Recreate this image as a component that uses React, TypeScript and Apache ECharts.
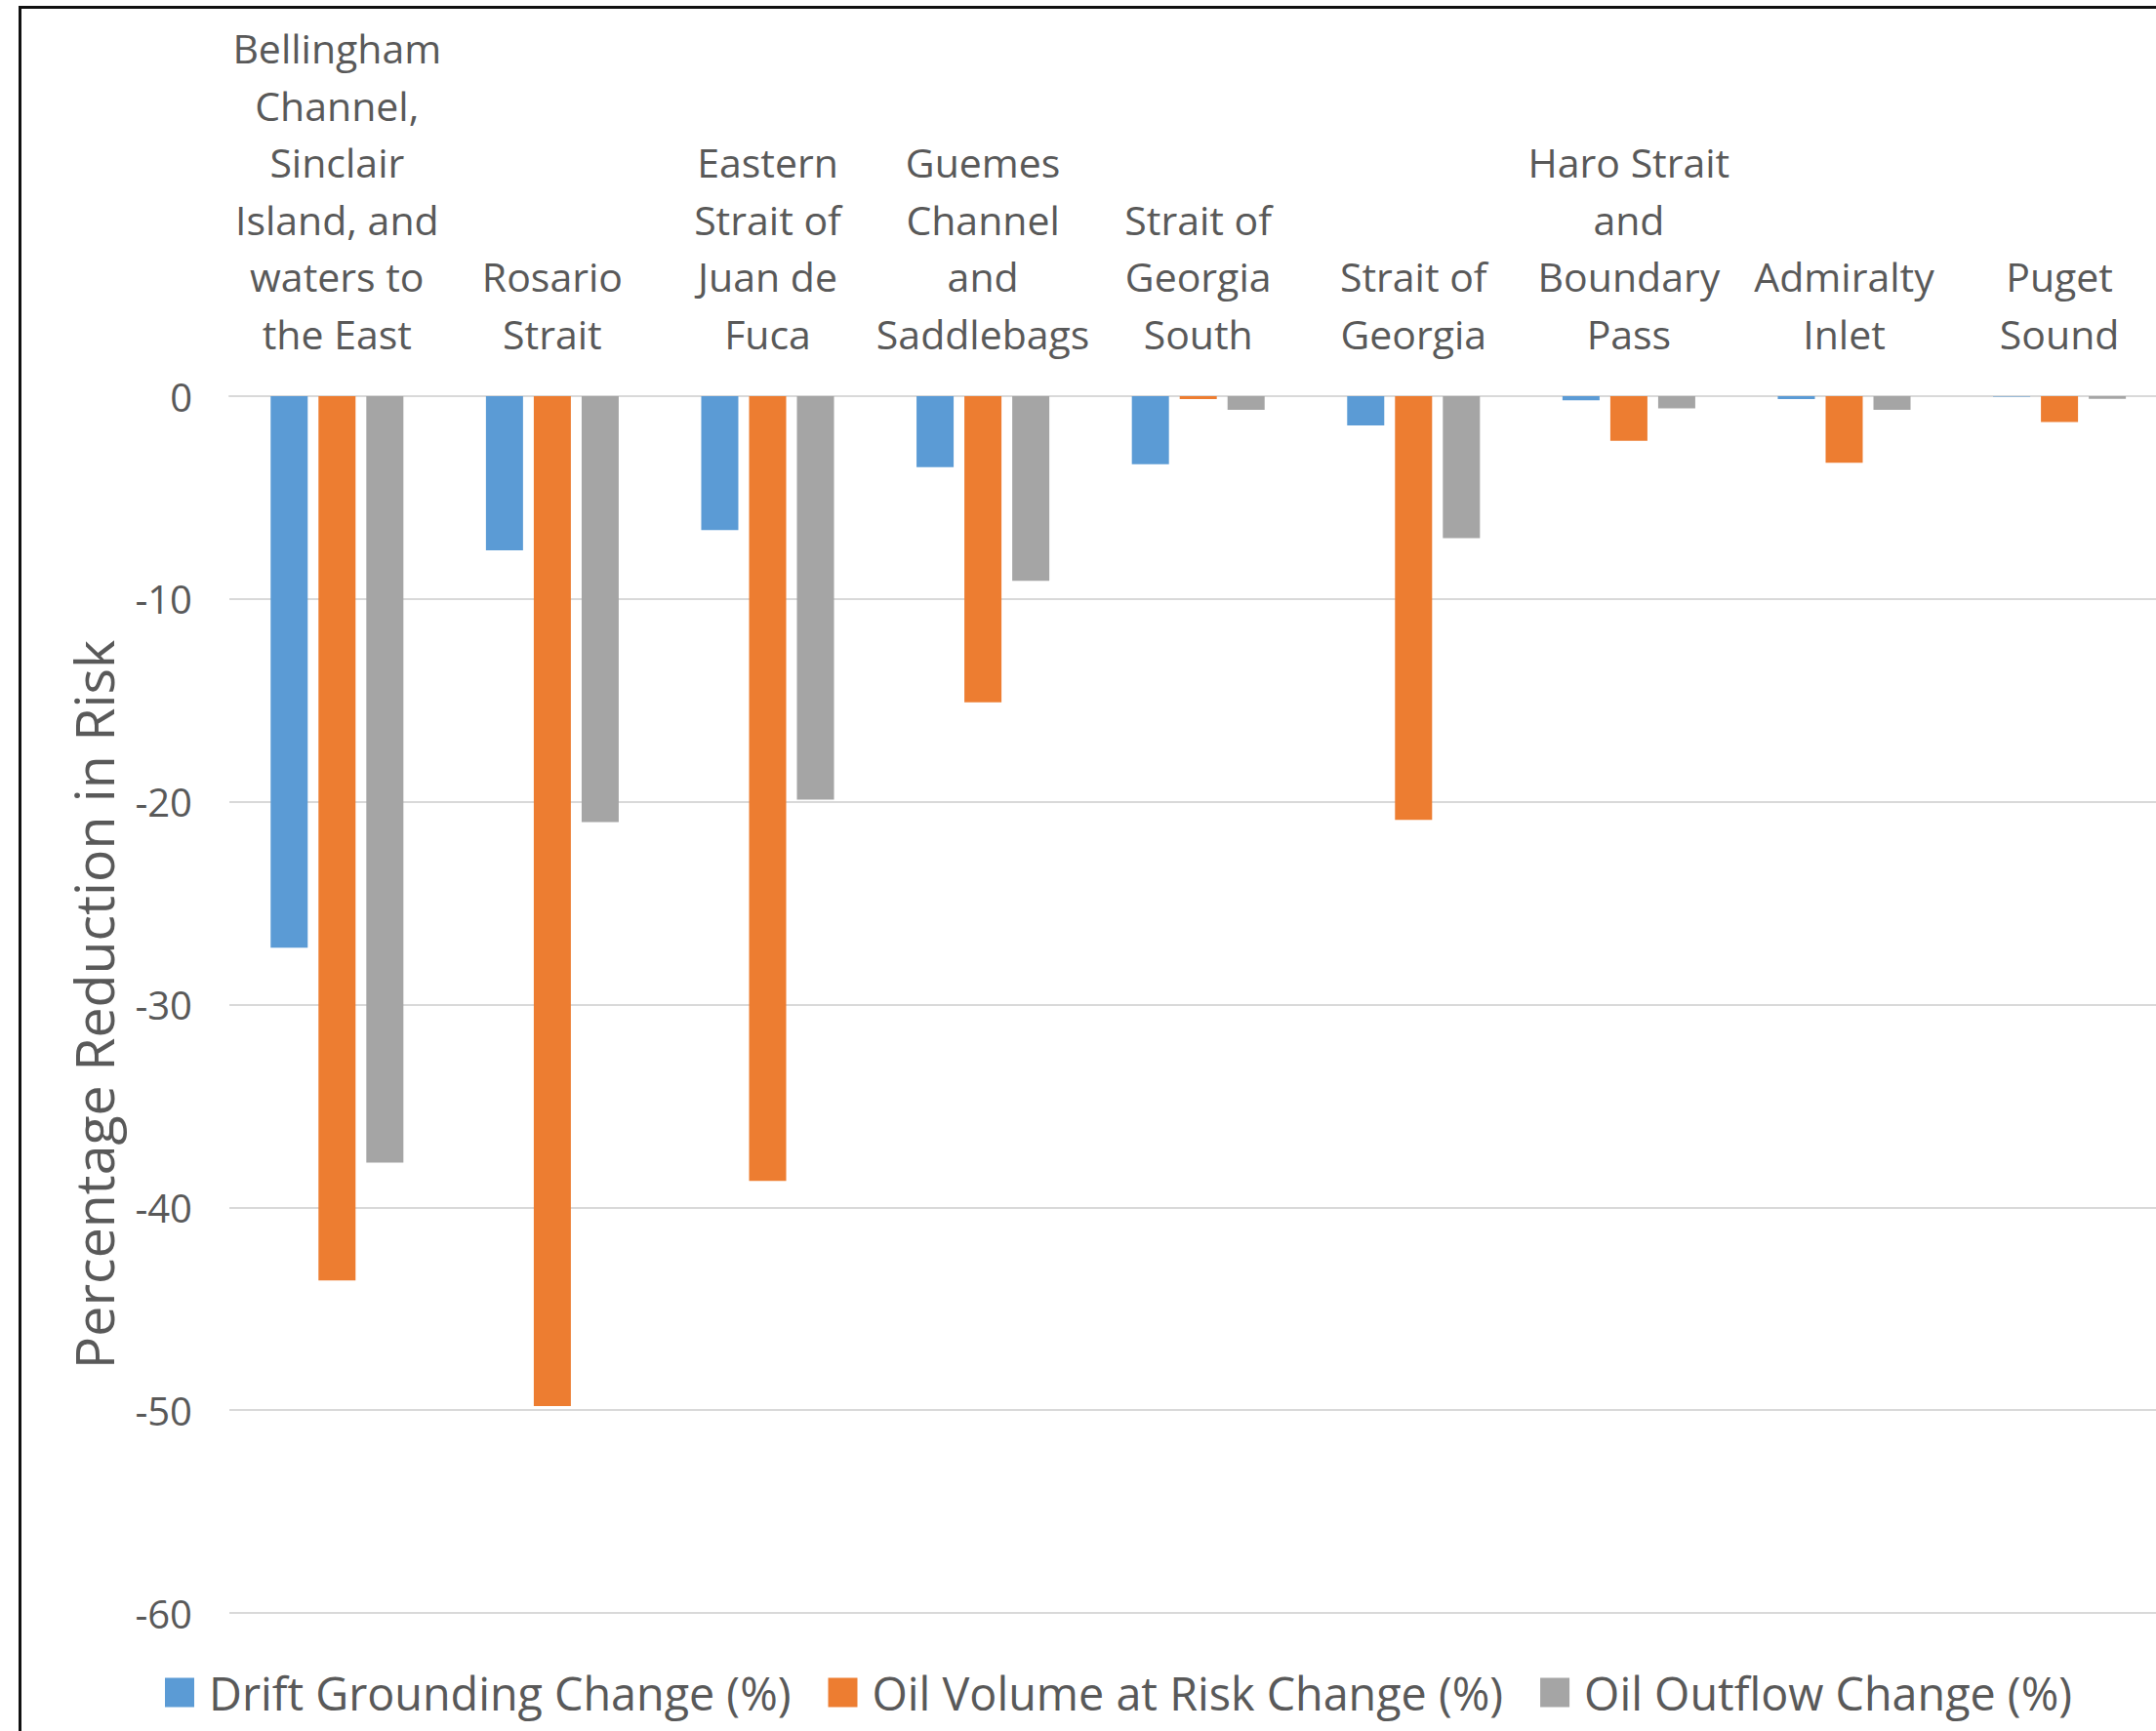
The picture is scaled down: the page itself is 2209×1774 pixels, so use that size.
import React, { useEffect, useRef } from "react";
import * as echarts from "echarts";

const categories = [
  "Bellingham\nChannel,\nSinclair\nIsland, and\nwaters to\nthe East",
  "Rosario\nStrait",
  "Eastern\nStrait of\nJuan de\nFuca",
  "Guemes\nChannel\nand\nSaddlebags",
  "Strait of\nGeorgia\nSouth",
  "Strait of\nGeorgia",
  "Haro Strait\nand\nBoundary\nPass",
  "Admiralty\nInlet",
  "Puget\nSound",
];

const driftGrounding = [-27.2, -7.6, -6.6, -3.5, -3.36, -1.44, -0.2, -0.14, -0.02];
const oilVolumeAtRisk = [-43.6, -49.8, -38.7, -15.1, -0.14, -20.9, -2.2, -3.28, -1.28];
const oilOutflow = [-37.8, -21.0, -19.9, -9.1, -0.67, -7.0, -0.6, -0.67, -0.13];

const seriesNames = [
  "Drift Grounding Change (%)",
  "Oil Volume at Risk Change (%)",
  "Oil Outflow Change (%)",
];
const colors = ["#5B9BD5", "#ED7D31", "#A5A5A5"];

const FONT = "'Open Sans', 'Noto Sans', sans-serif";
const TEXT = "#595959";

export default function App() {
  const ref = useRef<HTMLDivElement>(null);
  useEffect(() => {
    if (!ref.current) return;
    const chart = echarts.init(ref.current, undefined, { renderer: "svg" });
    const data = [driftGrounding, oilVolumeAtRisk, oilOutflow];
    chart.setOption({
      animation: false,
      backgroundColor: "#ffffff",
      textStyle: { fontFamily: FONT },
      grid: { left: 235, top: 406, right: 19.6, bottom: 121, containLabel: false },
      legend: {
        left: 164,
        top: 1706,
        itemWidth: 30,
        itemHeight: 30,
        itemGap: 38,
        icon: "rect",
        textStyle: { fontFamily: FONT, fontSize: 46.7, color: TEXT, padding: [0, 0, 0, 10] },
        data: seriesNames,
      },
      xAxis: {
        type: "category",
        position: "top",
        data: categories,
        axisLine: { show: true, lineStyle: { color: "#d9d9d9", width: 2 } },
        axisTick: { show: false },
        axisLabel: {
          interval: 0,
          margin: 35,
          fontFamily: FONT,
          fontSize: 41,
          lineHeight: 58.5,
          color: TEXT,
          align: "center",
        },
        splitLine: { show: false },
      },
      yAxis: {
        type: "value",
        min: -60,
        max: 0,
        interval: 10,
        name: "Percentage Reduction in Risk",
        nameLocation: "middle",
        nameGap: 112,
        nameTextStyle: { fontFamily: FONT, fontSize: 55.5, color: TEXT },
        axisLine: { show: false },
        axisTick: { show: false },
        axisLabel: { margin: 38, fontFamily: FONT, fontSize: 40, color: TEXT },
        splitLine: { show: true, lineStyle: { color: "#d9d9d9", width: 2 } },
      },
      series: data.map((d, i) => ({
        name: seriesNames[i],
        type: "bar",
        data: d,
        barWidth: 38,
        barGap: "29%",
        itemStyle: { color: colors[i] },
      })),
      graphic: [
        {
          type: "line",
          shape: { x1: 20.5, y1: 7.5, x2: 20.5, y2: 1774 },
          style: { stroke: "#111", lineWidth: 3 },
        },
        {
          type: "line",
          shape: { x1: 19, y1: 7.5, x2: 2240, y2: 7.5 },
          style: { stroke: "#111", lineWidth: 3 },
        },
      ],
    });
    return () => chart.dispose();
  }, []);
  return (
    <div
      ref={ref}
      style={{ position: "fixed", left: 0, top: 0, width: 2240, height: 1774, background: "#fff" }}
    />
  );
}
